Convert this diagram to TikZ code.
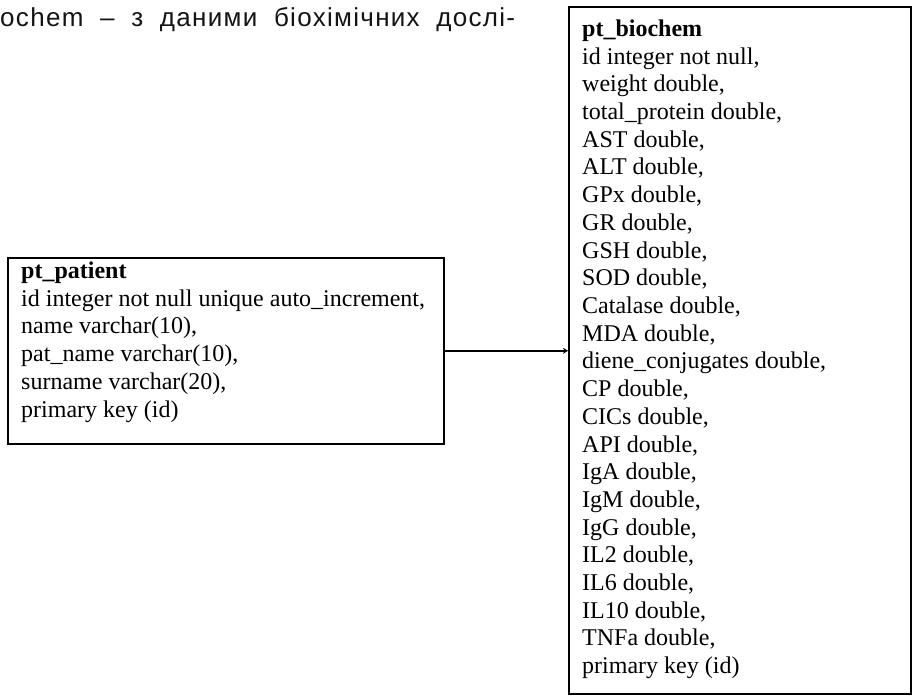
\documentclass[tikz,border=0pt]{standalone}
\usepackage{fontspec}
\setmainfont{Liberation Serif}
\newfontfamily\topfont[LetterSpace=5]{Liberation Sans}
\usetikzlibrary{arrows.meta}
\tikzset{
  tablebox/.style={draw=black, line width=1.6bp, anchor=north west, inner sep=0pt},
  tabletext/.style={anchor=base west, inner sep=0pt, font=\fontsize{24bp}{27.7bp}\selectfont},
  link/.style={draw=black, line width=1.4bp, -{Stealth[length=5bp,width=6bp]}}
}
\begin{document}
\begin{tikzpicture}[x=1bp,y=-1bp]
\useasboundingbox (0,0) rectangle (916,697);
\fill[white] (0,0) rectangle (916,697);
% heading fragment
\node[anchor=base west, inner sep=0pt, text=black!92] (heading) at (0,26.5)
  {\topfont\fontsize{26bp}{30bp}\selectfont\makebox[515bp][s]{ochem – з даними біохімічних дослі-}};
% boxes
\node[tablebox, minimum width=436bp, minimum height=186bp] (patient) at (7,257) {};
\node[tablebox, minimum width=342bp, minimum height=687bp] (biochem) at (568,6) {};
% texts
\node[tabletext] (patienttext) at (21,278.5) {\begin{tabular}[t]{@{}l@{}}
\textbf{pt\_patient}\\
id integer not null unique auto\_increment,\\
name varchar(10),\\
pat\_name varchar(10),\\
surname varchar(20),\\
primary key (id)
\end{tabular}};
\node[tabletext] (biochemtext) at (582,36.5) {\begin{tabular}[t]{@{}l@{}}
\textbf{pt\_biochem}\\
id integer not null,\\
weight double,\\
total\_protein double,\\
AST double,\\
ALT double,\\
GPx double,\\
GR double,\\
GSH double,\\
SOD double,\\
Catalase double,\\
MDA double,\\
diene\_conjugates double,\\
CP double,\\
CICs double,\\
API double,\\
IgA double,\\
IgM double,\\
IgG double,\\
IL2 double,\\
IL6 double,\\
IL10 double,\\
TNFa double,\\
primary key (id)
\end{tabular}};
% connector
\draw[link] (patient.east) -- (patient.east -| biochem.west);
\end{tikzpicture}
\end{document}
